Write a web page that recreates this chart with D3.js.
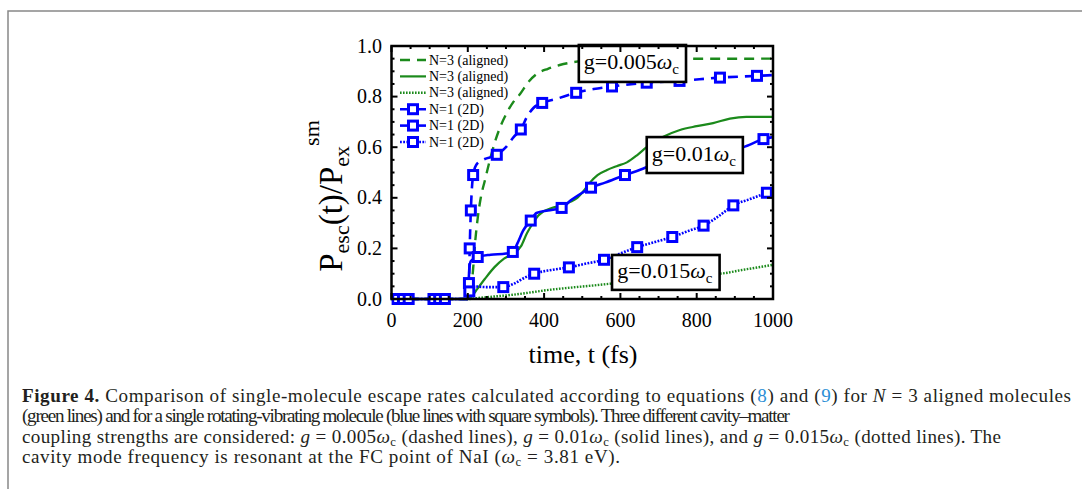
<!DOCTYPE html>
<html>
<head>
<meta charset="utf-8">
<script src="https://cdn.jsdelivr.net/npm/d3@7"></script>
<style>
  body { margin: 0; background: #fff; }
  svg { display: block; font-family: "Times New Roman", Times, "Liberation Serif", serif; }
</style>
</head>
<body>
<div id="chart"></div>
<script>
// time (fs), P_esc/P_ex
const greenDashed = [[0,0],[200,0],[208,0.03],[214,0.12],[219,0.22],[226,0.32],[234,0.40],[245,0.47],[258,0.55],[271,0.62],[285,0.68],[302,0.735],[320,0.78],[337,0.81],[360,0.86],[381,0.89],[410,0.91],[441,0.925],[494,0.94],[560,0.948],[1000,0.95]];
const greenSolid = [[0,0],[200,0],[210,0.01],[225,0.04],[245,0.08],[270,0.126],[295,0.16],[320,0.18],[340,0.21],[355,0.26],[371,0.30],[385,0.33],[397,0.345],[420,0.36],[446,0.37],[470,0.385],[487,0.40],[505,0.43],[520,0.46],[540,0.49],[565,0.51],[590,0.525],[617,0.54],[645,0.57],[669,0.60],[711,0.64],[756,0.668],[800,0.683],[843,0.695],[887,0.713],[930,0.72],[1000,0.72]];
const greenDotted = [[0,0],[200,0],[232,0.005],[270,0.01],[319,0.017],[360,0.025],[407,0.035],[470,0.045],[539,0.055],[600,0.065],[700,0.085],[760,0.095],[860,0.10],[920,0.115],[1000,0.135]];

const blueDashed = [[0,0],[200,0],[203,0.05],[205,0.2],[208,0.35],[214,0.49],[222,0.53],[240,0.55],[276,0.57],[300,0.6],[320,0.64],[339,0.67],[355,0.72],[372,0.755],[395,0.775],[430,0.79],[484,0.815],[530,0.83],[578,0.84],[669,0.855],[755,0.862],[861,0.875],[958,0.882],[1000,0.885]];
const blueDashedMarks = [[15,0],[110,0],[205,0.2],[208,0.35],[214,0.49],[276,0.57],[339,0.67],[395,0.775],[484,0.815],[578,0.84],[669,0.855],[755,0.862],[861,0.875],[958,0.882]];
const blueSolid = [[0,0],[200,0],[202,0.06],[204,0.12],[208,0.15],[226,0.166],[260,0.175],[300,0.18],[318,0.186],[330,0.22],[345,0.27],[365,0.31],[380,0.34],[410,0.35],[446,0.36],[470,0.39],[500,0.42],[523,0.44],[560,0.46],[612,0.49],[650,0.51],[700,0.54],[760,0.56],[820,0.575],[880,0.59],[921,0.6],[975,0.632],[1000,0.64]];
const blueSolidMarks = [[30,0],[125,0],[203,0.063],[226,0.166],[318,0.186],[365,0.31],[446,0.36],[523,0.44],[612,0.49],[975,0.632]];
const blueDotted = [[0,0],[200,0],[202,0.03],[204,0.05],[210,0.05],[250,0.047],[293,0.047],[320,0.06],[350,0.085],[374,0.1],[420,0.115],[465,0.125],[510,0.14],[557,0.155],[600,0.18],[644,0.205],[690,0.225],[736,0.245],[780,0.27],[818,0.29],[860,0.33],[896,0.37],[940,0.395],[984,0.42],[1000,0.43]];
const blueDottedMarks = [[45,0],[140,0],[204,0.03],[293,0.047],[374,0.1],[465,0.125],[557,0.155],[644,0.205],[736,0.245],[818,0.29],[896,0.37],[984,0.42]];

const legendLabels = ["N=3 (aligned)", "N=3 (aligned)", "N=3 (aligned)", "N=1 (2D)", "N=1 (2D)", "N=1 (2D)"];
const xTicks = [0, 200, 400, 600, 800, 1000];
const yTicks = [0, 0.2, 0.4, 0.6, 0.8, 1.0];
// label boxes: text prefix, left/right (fs), top/bottom (P)
const boxes = [
  {g: "g=0.005", x0: 491, x1: 772, y0: 1.004, y1: 0.858},
  {g: "g=0.01", x0: 669, x1: 921, y0: 0.64, y1: 0.498},
  {g: "g=0.015", x0: 578, x1: 860, y0: 0.174, y1: 0.036}
];
const captionLines = [
  [["Figure 4.", "b"], ["  Comparison of single-molecule escape rates calculated according to equations ("], ["8", "link"], [") and ("], ["9", "link"], [") for "], ["N", "i"], [" = 3 aligned molecules"]],
  [["(green lines) and for a single rotating-vibrating molecule (blue lines with square symbols). Three different cavity\u2013matter"]],
  [["coupling strengths are considered: "], ["g", "i"], [" = 0.005"], ["\u03c9", "i"], ["c", "sub"], [" (dashed lines), "], ["g", "i"], [" = 0.01"], ["\u03c9", "i"], ["c", "sub"], [" (solid lines), and "], ["g", "i"], [" = 0.015"], ["\u03c9", "i"], ["c", "sub"], [" (dotted lines). The"]],
  [["cavity mode frequency is resonant at the FC point of NaI ("], ["\u03c9", "i"], ["c", "sub"], [" = 3.81 eV)."]]
];
const captionWidths = [1049, 768, 979, 598];

const W = 1082, H = 489;
const green = "#1b8a1b", blue = "#0000ff";
const x = d3.scaleLinear().domain([0, 1000]).range([391.5, 773]);
const y = d3.scaleLinear().domain([0, 1]).range([299, 46]);

const svg = d3.select("#chart").append("svg").attr("width", W).attr("height", H);

// outer figure frame
svg.append("path").attr("d", `M8,${H} V11 H${W}`).attr("fill", "none").attr("stroke", "#888").attr("stroke-width", 1.5);

svg.append("clipPath").attr("id", "clip").append("rect")
  .attr("x", x(0)).attr("y", y(1) - 2).attr("width", x(1000) - x(0)).attr("height", y(0) - y(1) + 8);

const line = d3.line().x(d => x(d[0])).y(d => y(d[1])).curve(d3.curveMonotoneX);

const series = [
  {data: greenDashed, color: green, width: 2.4, dash: "10,7"},
  {data: greenSolid, color: green, width: 2.2, dash: null},
  {data: greenDotted, color: green, width: 2.4, dash: "1.6,1.4"},
  {data: blueDashed, marks: blueDashedMarks, color: blue, width: 2.6, dash: "10,7"},
  {data: blueSolid, marks: blueSolidMarks, color: blue, width: 2.6, dash: null},
  {data: blueDotted, marks: blueDottedMarks, color: blue, width: 2.6, dash: "1.8,1.4"}
];

const gPlot = svg.append("g").attr("clip-path", "url(#clip)");
series.forEach(s => {
  gPlot.append("path").datum(s.data)
    .attr("fill", "none").attr("stroke", s.color).attr("stroke-width", s.width)
    .attr("stroke-dasharray", s.dash).attr("d", line);
});
series.filter(s => s.marks).forEach(s => {
  gPlot.selectAll(null).data(s.marks).join("rect")
    .attr("x", d => x(d[0]) - 4.5).attr("y", d => y(d[1]) - 4.5)
    .attr("width", 9).attr("height", 9)
    .attr("fill", "#fff").attr("stroke", blue).attr("stroke-width", 3);
});

// label boxes
boxes.forEach(b => {
  svg.append("rect").attr("x", x(b.x0)).attr("y", y(b.y0))
    .attr("width", x(b.x1) - x(b.x0)).attr("height", y(b.y1) - y(b.y0))
    .attr("fill", "#fff").attr("stroke", "#000").attr("stroke-width", 2.6);
  const t = svg.append("text").attr("x", (x(b.x0) + x(b.x1)) / 2 - 1).attr("y", (y(b.y0) + y(b.y1)) / 2 + 6)
    .attr("text-anchor", "middle").attr("font-size", 22);
  t.append("tspan").text(b.g);
  t.append("tspan").attr("font-style", "italic").text("\u03c9");
  t.append("tspan").attr("font-size", 15).attr("dy", 5).text("c");
});

// frame and ticks
svg.append("rect").attr("x", x(0)).attr("y", y(1)).attr("width", x(1000) - x(0)).attr("height", y(0) - y(1))
  .attr("fill", "none").attr("stroke", "#000").attr("stroke-width", 2.5);

const gAxes = svg.append("g").attr("stroke", "#000").attr("stroke-width", 2);
d3.range(0, 1001, 50).forEach(v => {
  const len = v % 200 === 0 ? 6 : 3;
  gAxes.append("line").attr("x1", x(v)).attr("x2", x(v)).attr("y1", y(0)).attr("y2", y(0) - len);
  gAxes.append("line").attr("x1", x(v)).attr("x2", x(v)).attr("y1", y(1)).attr("y2", y(1) + len);
});
d3.range(0, 21).forEach(i => {
  const v = i * 0.05, len = i % 4 === 0 ? 6 : 3;
  gAxes.append("line").attr("y1", y(v)).attr("y2", y(v)).attr("x1", x(0)).attr("x2", x(0) + len);
  gAxes.append("line").attr("y1", y(v)).attr("y2", y(v)).attr("x1", x(1000)).attr("x2", x(1000) - len);
});

svg.append("g").selectAll("text").data(xTicks).join("text")
  .attr("x", d => x(d)).attr("y", 327).attr("text-anchor", "middle").attr("font-size", 20)
  .text(d => d);
svg.append("g").selectAll("text").data(yTicks).join("text")
  .attr("x", 382).attr("y", d => y(d) + 6.5).attr("text-anchor", "end").attr("font-size", 20)
  .text(d => d3.format(".1f")(d));

svg.append("text").attr("x", 583).attr("y", 363).attr("text-anchor", "middle").attr("font-size", 26)
  .text("time, t (fs)");

const yl = svg.append("text").attr("transform", "translate(342,196) rotate(-90)")
  .attr("text-anchor", "middle").attr("font-size", 33);
yl.append("tspan").text("P");
yl.append("tspan").attr("font-size", 22).attr("dy", 7).text("esc");
yl.append("tspan").attr("dy", -7).text("(t)/P");
yl.append("tspan").attr("font-size", 22).attr("dy", 7).text("ex");
yl.append("tspan").attr("font-size", 22).attr("dy", -30).text("sm");

// legend
const lg = svg.append("g");
series.forEach((s, i) => {
  const ly = 60 + i * 16.4;
  lg.append("line").attr("x1", 400).attr("x2", 426).attr("y1", ly).attr("y2", ly)
    .attr("stroke", s.color).attr("stroke-width", s.width).attr("stroke-dasharray", s.dash);
  if (s.marks) lg.append("rect").attr("x", 408.5).attr("y", ly - 4.5).attr("width", 9).attr("height", 9)
    .attr("fill", "#fff").attr("stroke", blue).attr("stroke-width", 3);
  lg.append("text").attr("x", 429).attr("y", ly + 4.5).attr("font-size", 14).text(legendLabels[i]);
});

// caption: condensed face, one common squeeze, spacing fitted per line
const cap = svg.append("g").attr("font-size", 18).attr("fill", "#231f20");
const capTexts = captionLines.map((parts, i) => {
  const t = cap.append("text").attr("x", 22).attr("y", 402 + i * 20.3);
  let afterSub = false;
  parts.forEach(([s, k]) => {
    const sp = t.append("tspan").text(s);
    if (k === "b") sp.attr("font-weight", "bold");
    if (k === "i") sp.attr("font-style", "italic");
    if (k === "link") sp.attr("fill", "#2b8fd6");
    if (k === "sub") sp.attr("font-size", 12).attr("dy", 3);
    else if (afterSub) sp.attr("dy", -3);
    afterSub = k === "sub";
  });
  return t;
});
const nat = capTexts.map(t => t.node().getComputedTextLength());
const sx = d3.sum(captionWidths) / d3.sum(nat);
capTexts.forEach((t, i) => {
  t.attr("textLength", captionWidths[i] / sx).attr("lengthAdjust", "spacing")
    .attr("transform", `translate(22,0) scale(${sx},1) translate(-22,0)`);
});
</script>
</body>
</html>
